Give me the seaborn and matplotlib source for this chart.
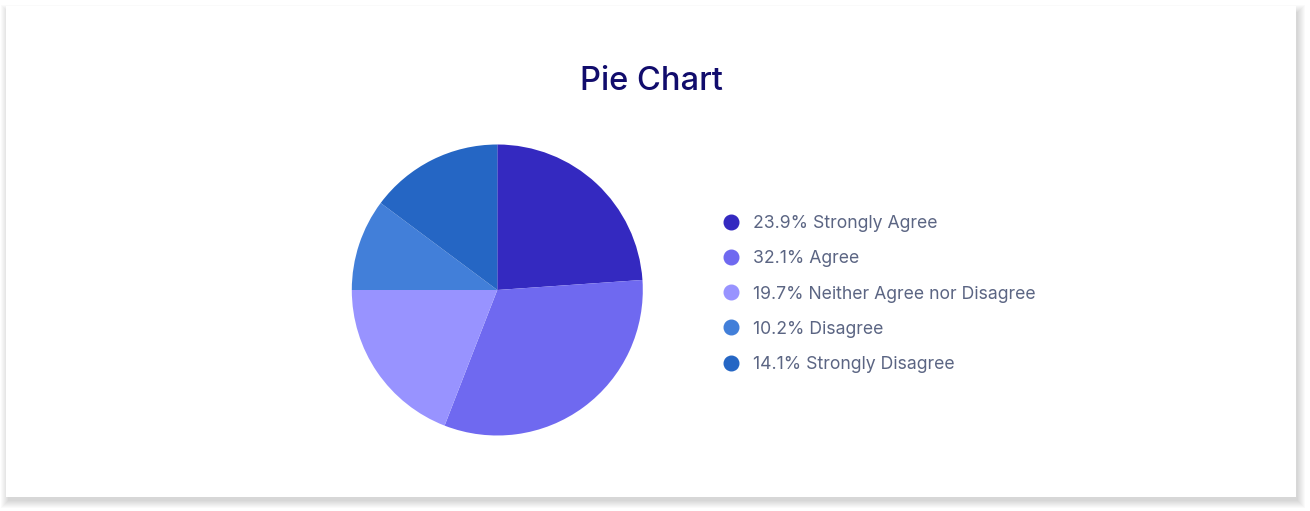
import matplotlib
matplotlib.use("Agg")
import matplotlib.pyplot as plt
import seaborn as sns
from matplotlib.patches import Rectangle
from matplotlib.lines import Line2D

categories = ["Strongly Agree", "Agree", "Neither Agree nor Disagree", "Disagree", "Strongly Disagree"]
# slice shares as drawn in the picture
slice_shares = [23.9, 32.0, 19.1, 10.2, 14.8]
# percentages printed in the legend
label_pcts = [23.9, 32.1, 19.7, 10.2, 14.1]
colors = ["#3429C0", "#6F69F0", "#9893FF", "#427FD9", "#2566C4"]
title = "Pie Chart"

sns.set_theme(style="white")
plt.rcParams['font.family'] = ['Inter', 'DejaVu Sans']

W, H = 1310, 511
fig = plt.figure(figsize=(W / 100, H / 100), dpi=100)
fig.patch.set_facecolor("white")

# soft card shadow (mostly below / right)
for i in range(8):
    off = 8 - i
    fig.patches.append(Rectangle(((6 - off + 3) / W, (14 - off - 3) / H),
                                 (1290 + 2 * off - 2) / W, (491 + 2 * off - 4) / H,
                                 transform=fig.transFigure, facecolor="#000000",
                                 alpha=0.02, edgecolor="none", zorder=0))
fig.patches.append(Rectangle((6 / W, 14 / H), 1290 / W, 491 / H,
                             transform=fig.transFigure, facecolor="white",
                             edgecolor="none", zorder=1))

cx, cy, r = 497.3, 511 - 290, 145.5
ax = fig.add_axes([(cx - r) / W, (cy - r) / H, 2 * r / W, 2 * r / H])
ax.set_zorder(2)
wedges, _ = ax.pie(slice_shares, colors=colors, startangle=90, counterclock=False,
                   radius=1, wedgeprops=dict(linewidth=0))
ax.set_xlim(-1, 1)
ax.set_ylim(-1, 1)
ax.set_aspect("equal")
ax.axis("off")

fig.text(651 / W, 1 - 81 / H, title, ha="center", va="center",
         fontsize=23.5, color="#110C6C", fontweight="medium", zorder=3)

handles = [Line2D([0], [0], marker="o", linestyle="none", markersize=10.5,
                  markerfacecolor=c, markeredgecolor=c) for c in colors]
labels = [f"{v:.1f}% {c}" for v, c in zip(label_pcts, categories)]
leg = fig.legend(handles, labels, loc="center left",
                 bbox_to_anchor=(713 / W, 1 - 294 / H), frameon=False,
                 fontsize=12.7, labelcolor="#5B6583", handletextpad=0.68,
                 labelspacing=1.03, handlelength=1.2, borderaxespad=0)
leg.set_zorder(3)

fig.savefig("out.png", dpi=100, facecolor="white")
